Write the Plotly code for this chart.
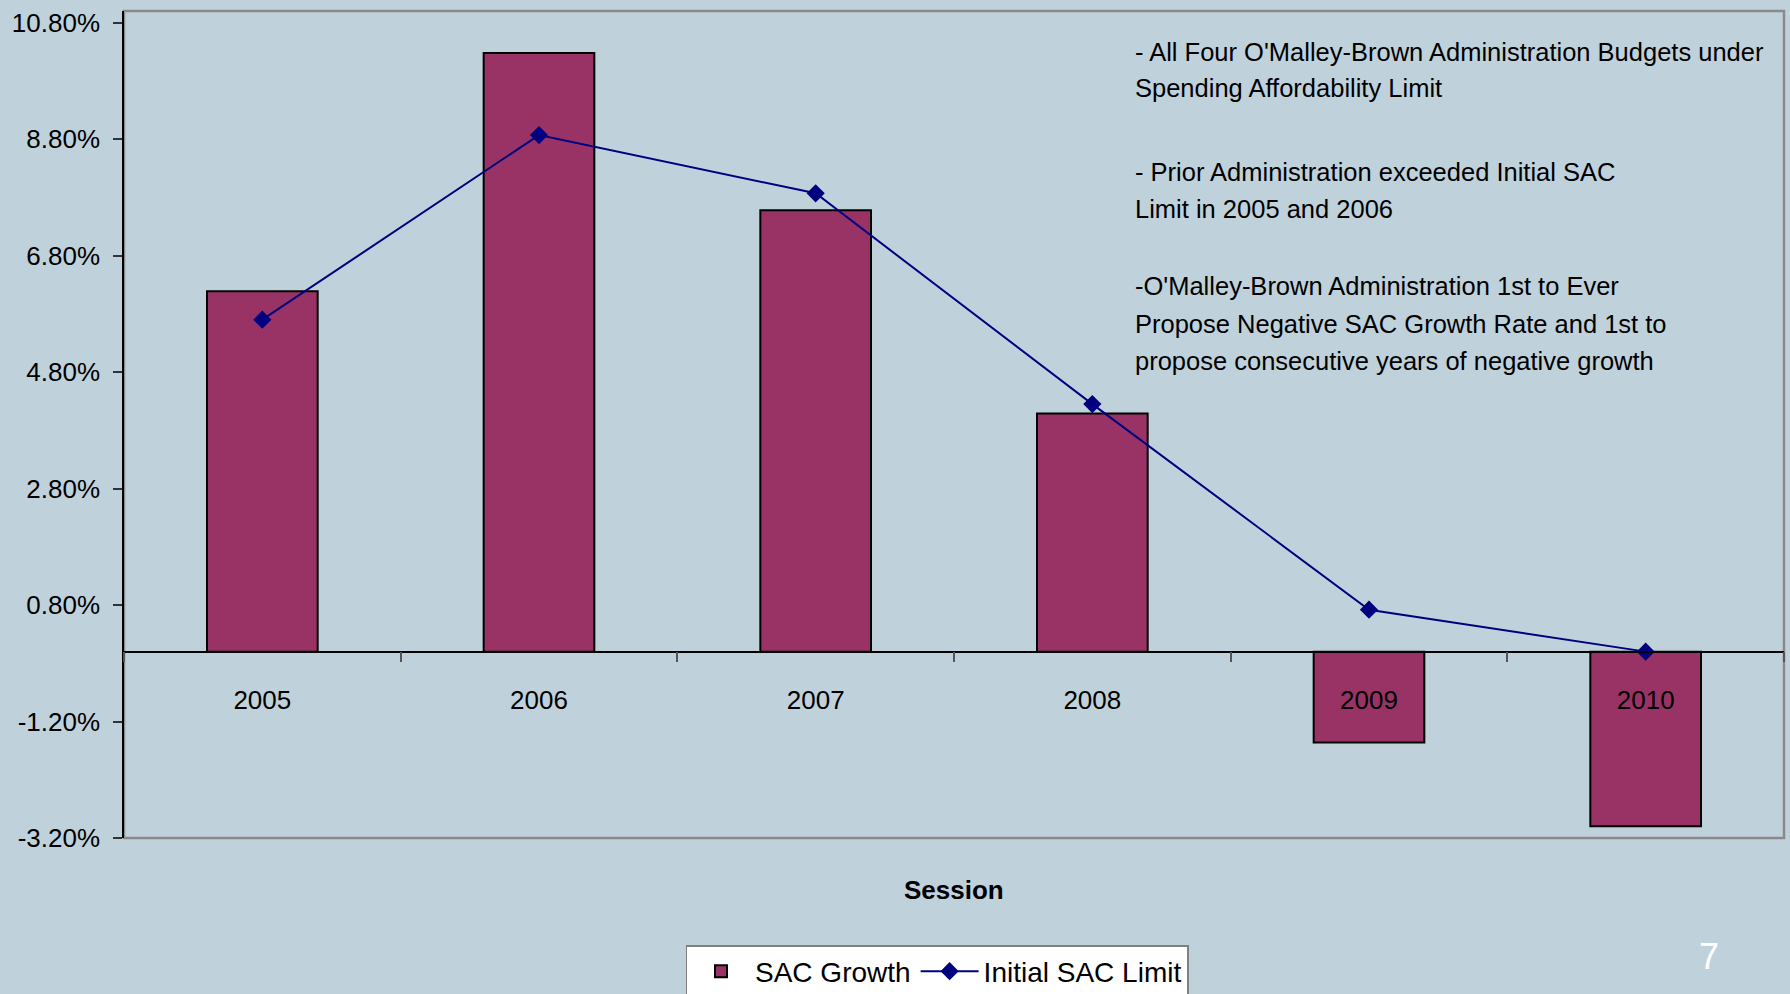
import plotly.graph_objects as go

# ---- data ----
years = ["2005", "2006", "2007", "2008", "2009", "2010"]
sac_growth = [6.19, 10.28, 7.58, 4.09, -1.56, -3.00]
initial_limit = [5.70, 8.87, 7.87, 4.25, 0.72, 0.00]
y_ticks = [-3.2, -1.2, 0.8, 2.8, 4.8, 6.8, 8.8, 10.8]
y_tick_labels = [f"{v:.2f}%" for v in y_ticks]
note_lines = [
    "- All Four O'Malley-Brown Administration Budgets under",
    "Spending Affordability Limit",
    "- Prior Administration exceeded Initial SAC",
    "Limit in 2005 and 2006",
    "-O'Malley-Brown Administration 1st to Ever",
    "Propose Negative SAC Growth Rate and 1st to",
    "propose consecutive years of negative growth",
]
x_title = "Session"
page_number = "7"

# ---- geometry (pixels) ----
W, H = 1790, 994
ML, MR, MT, MB = 124, 6, 11, 156
PW, PH = W - ML - MR, H - MT - MB
Y_MIN, Y_MAX = -3.2, 11.0


def px_x(x):
    return (x - ML) / PW


def px_y(y):
    return (H - MB - y) / PH


BG = "#BFD1DB"
FONT = "Liberation Sans, Arial, sans-serif"

fig = go.Figure()
fig.add_bar(
    x=years, y=sac_growth, name="SAC Growth",
    marker=dict(color="#993366", line=dict(color="black", width=2)),
)
fig.add_scatter(
    x=years, y=initial_limit, name="Initial SAC Limit", mode="lines+markers",
    line=dict(color="#000080", width=2),
    marker=dict(symbol="diamond", size=14, color="#000080"),
)

zero_pos = (0 - Y_MIN) / (Y_MAX - Y_MIN)

fig.update_layout(
    width=W, height=H,
    margin=dict(l=ML, r=MR, t=MT, b=MB),
    paper_bgcolor=BG, plot_bgcolor=BG,
    bargap=0.6,
    font=dict(family=FONT, size=26, color="black"),
    showlegend=True,
    legend=dict(
        orientation="h", xref="container", yref="container",
        x=937 / W, xanchor="center", y=1 - 945 / H, yanchor="top",
        bgcolor="white", bordercolor="#808080", borderwidth=1.5,
        font=dict(family=FONT, size=28, color="black"),
        traceorder="normal", itemwidth=58,
    ),
    xaxis=dict(
        type="category", anchor="free", position=zero_pos,
        range=[-0.5, 5.5],
        showline=True, linecolor="black", linewidth=1.5,
        ticks="outside", ticklen=10, tickcolor="#555", tickwidth=1.5,
        tickson="boundaries", showgrid=False, zeroline=False,
        ticklabelstandoff=25,
        tickfont=dict(family=FONT, size=26, color="black"),
    ),
    yaxis=dict(
        range=[Y_MIN, Y_MAX],
        tickvals=y_ticks, ticktext=y_tick_labels,
        showline=True, linecolor="black", linewidth=1.5,
        ticks="outside", ticklen=9, tickcolor="#333", tickwidth=1.5,
        showgrid=False, zeroline=False,
        ticklabelstandoff=8,
        tickfont=dict(family=FONT, size=26, color="black"),
    ),
    shapes=[
        dict(type="rect", xref="paper", yref="paper", x0=0, x1=1, y0=0, y1=1,
             line=dict(color="#8A8A8A", width=2.5), layer="below"),
    ],
)

# notes text
note_y = [51.7, 88.3, 171.7, 208.7, 285.8, 324.0, 360.8]
for line, ypx in zip(note_lines, note_y):
    fig.add_annotation(
        text=line, xref="paper", yref="paper", x=px_x(1133), y=px_y(ypx),
        xanchor="left", yanchor="middle", showarrow=False, align="left",
        font=dict(family=FONT, size=25.5, color="black"),
    )

# axis title
fig.add_annotation(
    text=f"<b>{x_title}</b>", xref="paper", yref="paper",
    x=0.5, y=px_y(890), xanchor="center", yanchor="middle", showarrow=False,
    font=dict(family=FONT, size=26, color="black"),
)

# page number
fig.add_annotation(
    text=page_number, xref="paper", yref="paper",
    x=px_x(1709), y=px_y(957), xanchor="center", yanchor="middle", showarrow=False,
    font=dict(family=FONT, size=36, color="white"),
)

fig.write_html(
    "out.html",
    config={"displayModeBar": False},
    post_script="document.body.style.margin='0';document.body.style.overflow='hidden';",
)
